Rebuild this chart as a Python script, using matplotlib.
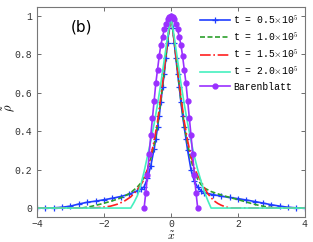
import matplotlib
matplotlib.use('Agg')
import matplotlib.pyplot as plt
import numpy as np

plt.rcParams['mathtext.fontset'] = 'cm'

# t = 0.5e5 (blue, + markers)
x_b = [-4.0, -3.75, -3.5, -3.25, -3.0, -2.75, -2.5, -2.25, -2.0, -1.75, -1.5, -1.25,
       -1.0, -0.9, -0.8, -0.7, -0.6, -0.5, -0.45, -0.4, -0.35, -0.3, -0.25, -0.2,
       -0.15, -0.1, -0.05, 0.0, 0.05, 0.1, 0.15, 0.2, 0.25, 0.3, 0.35, 0.4, 0.45,
       0.5, 0.6, 0.7, 0.8, 0.9, 1.0, 1.25, 1.5, 1.75, 2.0, 2.25, 2.5, 2.75, 3.0,
       3.25, 3.5, 3.75, 4.0]
y_b = [0.0, 0.0, 0.001, 0.004, 0.01, 0.021, 0.03, 0.036, 0.043, 0.051, 0.06, 0.072,
       0.09, 0.098, 0.11, 0.155, 0.22, 0.31, 0.36, 0.42, 0.48, 0.55, 0.63, 0.70,
       0.78, 0.86, 0.94, 1.0, 0.94, 0.86, 0.78, 0.70, 0.63, 0.55, 0.48, 0.42, 0.36,
       0.30, 0.20, 0.14, 0.108, 0.09, 0.08, 0.07, 0.062, 0.055, 0.049, 0.042, 0.034,
       0.026, 0.017, 0.01, 0.004, 0.001, 0.0]

# t = 1.0e5 (green dashed)
x_g = [-4.0, -2.7, -2.6, -2.4, -2.2, -2.0, -1.8, -1.6, -1.4, -1.2, -1.0, -0.9, -0.8,
       -0.7, -0.6, -0.5, -0.4, -0.3, -0.2, -0.1, 0.0, 0.1, 0.2, 0.3, 0.4, 0.5, 0.6,
       0.7, 0.8, 0.9, 1.0, 1.2, 1.4, 1.6, 1.8, 2.0, 2.2, 2.4, 2.6, 2.8, 3.0, 3.2, 4.0]
y_g = [0.0, 0.0, 0.002, 0.008, 0.016, 0.025, 0.035, 0.046, 0.06, 0.08, 0.11, 0.13,
       0.16, 0.2, 0.26, 0.33, 0.43, 0.56, 0.71, 0.87, 1.0, 0.87, 0.71, 0.56, 0.43,
       0.33, 0.25, 0.19, 0.15, 0.122, 0.104, 0.086, 0.074, 0.063, 0.053, 0.044,
       0.034, 0.024, 0.015, 0.008, 0.003, 0.0, 0.0]

# t = 1.5e5 (red dash-dot)
x_r = [-4.0, -2.4, -2.2, -2.0, -1.8, -1.6, -1.4, -1.2, -1.0, -0.9, -0.8, -0.7, -0.6,
       -0.5, -0.4, -0.3, -0.2, -0.1, 0.0, 0.1, 0.2, 0.3, 0.4, 0.5, 0.6, 0.7, 0.8,
       0.9, 1.0, 1.1, 1.2, 1.3, 1.4, 1.5, 1.6, 1.7, 1.8, 4.0]
y_r = [0.0, 0.0, 0.002, 0.005, 0.01, 0.02, 0.035, 0.058, 0.095, 0.12, 0.15, 0.2,
       0.27, 0.35, 0.45, 0.58, 0.72, 0.87, 1.0, 0.87, 0.72, 0.58, 0.45, 0.35, 0.27,
       0.21, 0.17, 0.14, 0.105, 0.075, 0.054, 0.036, 0.024, 0.015, 0.008, 0.003,
       0.0, 0.0]

# t = 2.0e5 (cyan)
x_c = [-4.0, -1.2, -1.1, -1.0, -0.9, -0.8, -0.7, -0.6, -0.5, -0.4, -0.3, -0.2, -0.1,
       0.0, 0.1, 0.2, 0.3, 0.4, 0.5, 0.6, 0.7, 0.8, 0.9, 1.0, 1.1, 1.2, 4.0]
y_c = [0.0, 0.0, 0.03, 0.065, 0.12, 0.19, 0.27, 0.35, 0.44, 0.54, 0.65, 0.77, 0.89,
       1.0, 0.89, 0.77, 0.65, 0.54, 0.44, 0.35, 0.27, 0.2, 0.14, 0.085, 0.04, 0.0, 0.0]

# Barenblatt (purple, o markers)
x_bb = [-0.8, -0.75, -0.7, -0.65, -0.6, -0.55, -0.5, -0.45, -0.4, -0.35, -0.3, -0.25,
        -0.2, -0.15, -0.1, -0.05, 0.0, 0.05, 0.1, 0.15, 0.2, 0.25, 0.3, 0.35, 0.4,
        0.45, 0.5, 0.55, 0.6, 0.65, 0.7, 0.75, 0.8]
y_bb = [0.0, 0.08, 0.17, 0.28, 0.38, 0.47, 0.56, 0.65, 0.72, 0.79, 0.85, 0.89,
        0.93, 0.96, 0.985, 0.997, 1.0, 0.997, 0.985, 0.96, 0.93, 0.89, 0.85, 0.79,
        0.72, 0.65, 0.56, 0.47, 0.38, 0.28, 0.17, 0.08, 0.0]

labels = ['t = 0.5$\\times$10$^5$', 't = 1.0$\\times$10$^5$',
          't = 1.5$\\times$10$^5$', 't = 2.0$\\times$10$^5$', 'Barenblatt']
xticks = [-4, -2, 0, 2, 4]
yticks = [0, 0.2, 0.4, 0.6, 0.8, 1]
yticklabels = ['0', '0.2', '0.4', '0.6', '0.8', '1']

mono = 'Liberation Mono'

fig = plt.figure(figsize=(3.13, 2.42), dpi=100)
ax = fig.add_axes([0.118, 0.103, 0.856, 0.868])

ax.plot(x_b, y_b, color='#1f3dff', lw=1.2, marker='+', ms=4, mew=0.9, label=labels[0])
ax.plot(x_g, y_g, color='#2ca02c', lw=1.2, ls='--', dashes=(3, 1.5), label=labels[1])
ax.plot(x_r, y_r, color='#ff2020', lw=1.2, ls='-.', label=labels[2])
ax.plot(x_c, y_c, color='#45f0bf', lw=1.2, label=labels[3])
ax.plot(x_bb, y_bb, color='#9a30ff', lw=1.2, marker='o', ms=3.5, label=labels[4])

ax.set_xlim(-4, 4)
ax.set_ylim(-0.047, 1.047)
ax.set_xticks(xticks)
ax.set_yticks(yticks)
ax.set_yticklabels(yticklabels)
ax.tick_params(direction='in', top=True, right=True, length=3, width=0.6,
               colors='#555555', labelsize=7, labelcolor='#333333')
ax.tick_params(axis='x', pad=1.5)
for lab in ax.get_xticklabels() + ax.get_yticklabels():
    lab.set_family(mono)
for s in ax.spines.values():
    s.set_color('#777777')
    s.set_linewidth(0.8)

ax.set_xlabel('$\\tilde{x}$', fontsize=8.5)
ax.set_ylabel('$\\tilde{\\rho}$', fontsize=9)
ax.xaxis.set_label_coords(0.5, -0.062)
ax.yaxis.set_label_coords(-0.075, 0.52)
ax.text(0.125, 0.885, '(b)', transform=ax.transAxes, fontsize=11, family='DejaVu Sans')

leg = ax.legend(loc='upper right', frameon=False, prop={'family': mono, 'size': 7},
                handlelength=3.0, labelspacing=0.45, handletextpad=0.4,
                borderaxespad=0.2)

fig.savefig('out.png', dpi=100)
